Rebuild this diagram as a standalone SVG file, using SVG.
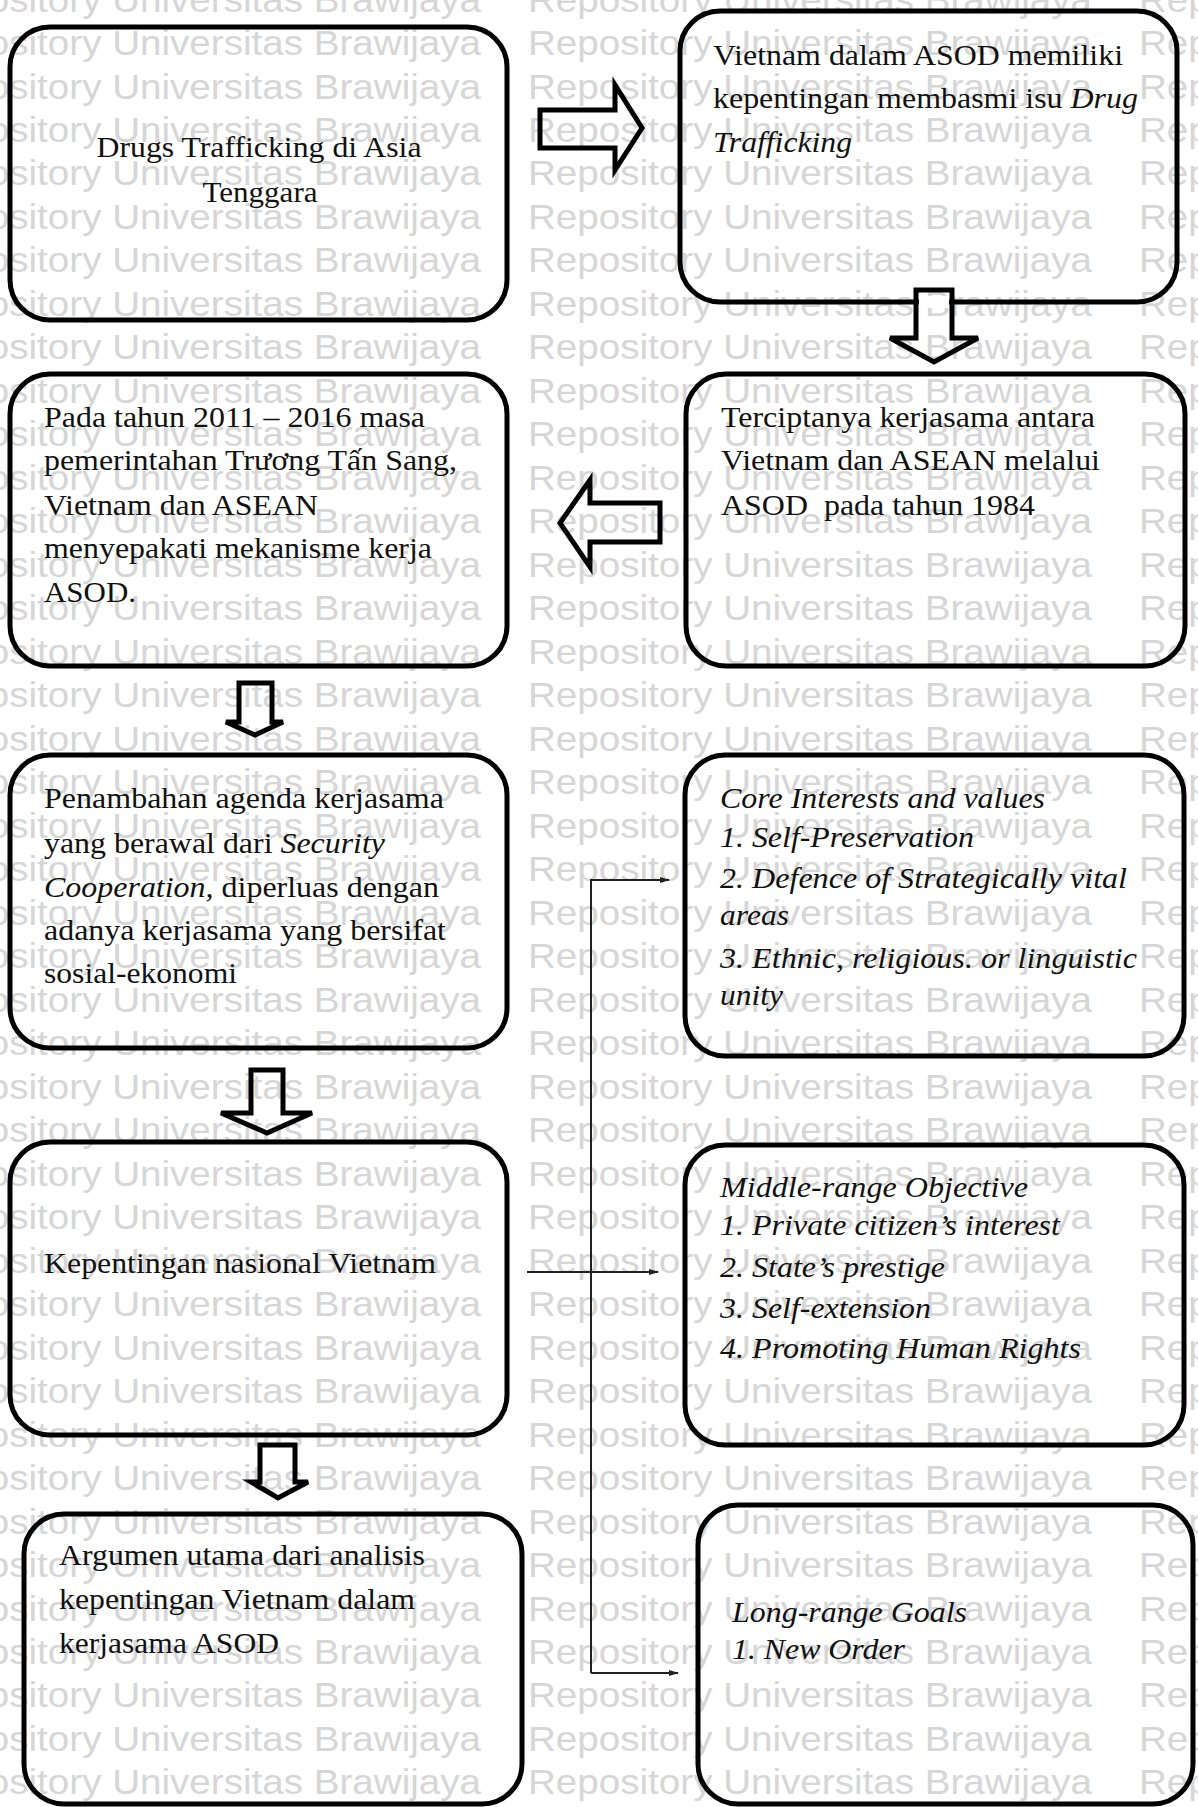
<svg xmlns="http://www.w3.org/2000/svg" width="1198" height="1807" viewBox="0 0 1198 1807">
<style>
.box{fill:none;stroke:#000;stroke-width:5}
.blk{fill:none;stroke:#000;stroke-width:5;stroke-linejoin:miter}
.t{font-family:"Liberation Serif","Times New Roman",serif;font-size:29px;fill:#111}
.i{font-style:italic}
.con{fill:none;stroke:#222;stroke-width:2}
.wm{font-family:"Liberation Sans",Arial,sans-serif;font-size:35px;fill:#d6d6d6}
</style>
<defs>
<marker id="ah" markerWidth="10" markerHeight="8" refX="9" refY="4" orient="auto" markerUnits="userSpaceOnUse">
<path d="M0,1 L10,4 L0,7 Z" fill="#222"/>
</marker>
</defs>
<rect width="1198" height="1807" fill="#fff"/>

<g id="watermark" class="wm">
<text x="-83" y="11.5" textLength="564" lengthAdjust="spacingAndGlyphs">Repository Universitas Brawijaya</text>
<text x="528" y="11.5" textLength="564" lengthAdjust="spacingAndGlyphs">Repository Universitas Brawijaya</text>
<text x="1139" y="11.5" textLength="564" lengthAdjust="spacingAndGlyphs">Repository Universitas Brawijaya</text>
<text x="-83" y="55" textLength="564" lengthAdjust="spacingAndGlyphs">Repository Universitas Brawijaya</text>
<text x="528" y="55" textLength="564" lengthAdjust="spacingAndGlyphs">Repository Universitas Brawijaya</text>
<text x="1139" y="55" textLength="564" lengthAdjust="spacingAndGlyphs">Repository Universitas Brawijaya</text>
<text x="-83" y="98.5" textLength="564" lengthAdjust="spacingAndGlyphs">Repository Universitas Brawijaya</text>
<text x="528" y="98.5" textLength="564" lengthAdjust="spacingAndGlyphs">Repository Universitas Brawijaya</text>
<text x="1139" y="98.5" textLength="564" lengthAdjust="spacingAndGlyphs">Repository Universitas Brawijaya</text>
<text x="-83" y="142" textLength="564" lengthAdjust="spacingAndGlyphs">Repository Universitas Brawijaya</text>
<text x="528" y="142" textLength="564" lengthAdjust="spacingAndGlyphs">Repository Universitas Brawijaya</text>
<text x="1139" y="142" textLength="564" lengthAdjust="spacingAndGlyphs">Repository Universitas Brawijaya</text>
<text x="-83" y="185.4" textLength="564" lengthAdjust="spacingAndGlyphs">Repository Universitas Brawijaya</text>
<text x="528" y="185.4" textLength="564" lengthAdjust="spacingAndGlyphs">Repository Universitas Brawijaya</text>
<text x="1139" y="185.4" textLength="564" lengthAdjust="spacingAndGlyphs">Repository Universitas Brawijaya</text>
<text x="-83" y="228.9" textLength="564" lengthAdjust="spacingAndGlyphs">Repository Universitas Brawijaya</text>
<text x="528" y="228.9" textLength="564" lengthAdjust="spacingAndGlyphs">Repository Universitas Brawijaya</text>
<text x="1139" y="228.9" textLength="564" lengthAdjust="spacingAndGlyphs">Repository Universitas Brawijaya</text>
<text x="-83" y="272.4" textLength="564" lengthAdjust="spacingAndGlyphs">Repository Universitas Brawijaya</text>
<text x="528" y="272.4" textLength="564" lengthAdjust="spacingAndGlyphs">Repository Universitas Brawijaya</text>
<text x="1139" y="272.4" textLength="564" lengthAdjust="spacingAndGlyphs">Repository Universitas Brawijaya</text>
<text x="-83" y="315.9" textLength="564" lengthAdjust="spacingAndGlyphs">Repository Universitas Brawijaya</text>
<text x="528" y="315.9" textLength="564" lengthAdjust="spacingAndGlyphs">Repository Universitas Brawijaya</text>
<text x="1139" y="315.9" textLength="564" lengthAdjust="spacingAndGlyphs">Repository Universitas Brawijaya</text>
<text x="-83" y="359.4" textLength="564" lengthAdjust="spacingAndGlyphs">Repository Universitas Brawijaya</text>
<text x="528" y="359.4" textLength="564" lengthAdjust="spacingAndGlyphs">Repository Universitas Brawijaya</text>
<text x="1139" y="359.4" textLength="564" lengthAdjust="spacingAndGlyphs">Repository Universitas Brawijaya</text>
<text x="-83" y="402.9" textLength="564" lengthAdjust="spacingAndGlyphs">Repository Universitas Brawijaya</text>
<text x="528" y="402.9" textLength="564" lengthAdjust="spacingAndGlyphs">Repository Universitas Brawijaya</text>
<text x="1139" y="402.9" textLength="564" lengthAdjust="spacingAndGlyphs">Repository Universitas Brawijaya</text>
<text x="-83" y="446.4" textLength="564" lengthAdjust="spacingAndGlyphs">Repository Universitas Brawijaya</text>
<text x="528" y="446.4" textLength="564" lengthAdjust="spacingAndGlyphs">Repository Universitas Brawijaya</text>
<text x="1139" y="446.4" textLength="564" lengthAdjust="spacingAndGlyphs">Repository Universitas Brawijaya</text>
<text x="-83" y="489.8" textLength="564" lengthAdjust="spacingAndGlyphs">Repository Universitas Brawijaya</text>
<text x="528" y="489.8" textLength="564" lengthAdjust="spacingAndGlyphs">Repository Universitas Brawijaya</text>
<text x="1139" y="489.8" textLength="564" lengthAdjust="spacingAndGlyphs">Repository Universitas Brawijaya</text>
<text x="-83" y="533.3" textLength="564" lengthAdjust="spacingAndGlyphs">Repository Universitas Brawijaya</text>
<text x="528" y="533.3" textLength="564" lengthAdjust="spacingAndGlyphs">Repository Universitas Brawijaya</text>
<text x="1139" y="533.3" textLength="564" lengthAdjust="spacingAndGlyphs">Repository Universitas Brawijaya</text>
<text x="-83" y="576.8" textLength="564" lengthAdjust="spacingAndGlyphs">Repository Universitas Brawijaya</text>
<text x="528" y="576.8" textLength="564" lengthAdjust="spacingAndGlyphs">Repository Universitas Brawijaya</text>
<text x="1139" y="576.8" textLength="564" lengthAdjust="spacingAndGlyphs">Repository Universitas Brawijaya</text>
<text x="-83" y="620.3" textLength="564" lengthAdjust="spacingAndGlyphs">Repository Universitas Brawijaya</text>
<text x="528" y="620.3" textLength="564" lengthAdjust="spacingAndGlyphs">Repository Universitas Brawijaya</text>
<text x="1139" y="620.3" textLength="564" lengthAdjust="spacingAndGlyphs">Repository Universitas Brawijaya</text>
<text x="-83" y="663.8" textLength="564" lengthAdjust="spacingAndGlyphs">Repository Universitas Brawijaya</text>
<text x="528" y="663.8" textLength="564" lengthAdjust="spacingAndGlyphs">Repository Universitas Brawijaya</text>
<text x="1139" y="663.8" textLength="564" lengthAdjust="spacingAndGlyphs">Repository Universitas Brawijaya</text>
<text x="-83" y="707.3" textLength="564" lengthAdjust="spacingAndGlyphs">Repository Universitas Brawijaya</text>
<text x="528" y="707.3" textLength="564" lengthAdjust="spacingAndGlyphs">Repository Universitas Brawijaya</text>
<text x="1139" y="707.3" textLength="564" lengthAdjust="spacingAndGlyphs">Repository Universitas Brawijaya</text>
<text x="-83" y="750.8" textLength="564" lengthAdjust="spacingAndGlyphs">Repository Universitas Brawijaya</text>
<text x="528" y="750.8" textLength="564" lengthAdjust="spacingAndGlyphs">Repository Universitas Brawijaya</text>
<text x="1139" y="750.8" textLength="564" lengthAdjust="spacingAndGlyphs">Repository Universitas Brawijaya</text>
<text x="-83" y="794.2" textLength="564" lengthAdjust="spacingAndGlyphs">Repository Universitas Brawijaya</text>
<text x="528" y="794.2" textLength="564" lengthAdjust="spacingAndGlyphs">Repository Universitas Brawijaya</text>
<text x="1139" y="794.2" textLength="564" lengthAdjust="spacingAndGlyphs">Repository Universitas Brawijaya</text>
<text x="-83" y="837.7" textLength="564" lengthAdjust="spacingAndGlyphs">Repository Universitas Brawijaya</text>
<text x="528" y="837.7" textLength="564" lengthAdjust="spacingAndGlyphs">Repository Universitas Brawijaya</text>
<text x="1139" y="837.7" textLength="564" lengthAdjust="spacingAndGlyphs">Repository Universitas Brawijaya</text>
<text x="-83" y="881.2" textLength="564" lengthAdjust="spacingAndGlyphs">Repository Universitas Brawijaya</text>
<text x="528" y="881.2" textLength="564" lengthAdjust="spacingAndGlyphs">Repository Universitas Brawijaya</text>
<text x="1139" y="881.2" textLength="564" lengthAdjust="spacingAndGlyphs">Repository Universitas Brawijaya</text>
<text x="-83" y="924.7" textLength="564" lengthAdjust="spacingAndGlyphs">Repository Universitas Brawijaya</text>
<text x="528" y="924.7" textLength="564" lengthAdjust="spacingAndGlyphs">Repository Universitas Brawijaya</text>
<text x="1139" y="924.7" textLength="564" lengthAdjust="spacingAndGlyphs">Repository Universitas Brawijaya</text>
<text x="-83" y="968.2" textLength="564" lengthAdjust="spacingAndGlyphs">Repository Universitas Brawijaya</text>
<text x="528" y="968.2" textLength="564" lengthAdjust="spacingAndGlyphs">Repository Universitas Brawijaya</text>
<text x="1139" y="968.2" textLength="564" lengthAdjust="spacingAndGlyphs">Repository Universitas Brawijaya</text>
<text x="-83" y="1011.7" textLength="564" lengthAdjust="spacingAndGlyphs">Repository Universitas Brawijaya</text>
<text x="528" y="1011.7" textLength="564" lengthAdjust="spacingAndGlyphs">Repository Universitas Brawijaya</text>
<text x="1139" y="1011.7" textLength="564" lengthAdjust="spacingAndGlyphs">Repository Universitas Brawijaya</text>
<text x="-83" y="1055.2" textLength="564" lengthAdjust="spacingAndGlyphs">Repository Universitas Brawijaya</text>
<text x="528" y="1055.2" textLength="564" lengthAdjust="spacingAndGlyphs">Repository Universitas Brawijaya</text>
<text x="1139" y="1055.2" textLength="564" lengthAdjust="spacingAndGlyphs">Repository Universitas Brawijaya</text>
<text x="-83" y="1098.6" textLength="564" lengthAdjust="spacingAndGlyphs">Repository Universitas Brawijaya</text>
<text x="528" y="1098.6" textLength="564" lengthAdjust="spacingAndGlyphs">Repository Universitas Brawijaya</text>
<text x="1139" y="1098.6" textLength="564" lengthAdjust="spacingAndGlyphs">Repository Universitas Brawijaya</text>
<text x="-83" y="1142.1" textLength="564" lengthAdjust="spacingAndGlyphs">Repository Universitas Brawijaya</text>
<text x="528" y="1142.1" textLength="564" lengthAdjust="spacingAndGlyphs">Repository Universitas Brawijaya</text>
<text x="1139" y="1142.1" textLength="564" lengthAdjust="spacingAndGlyphs">Repository Universitas Brawijaya</text>
<text x="-83" y="1185.6" textLength="564" lengthAdjust="spacingAndGlyphs">Repository Universitas Brawijaya</text>
<text x="528" y="1185.6" textLength="564" lengthAdjust="spacingAndGlyphs">Repository Universitas Brawijaya</text>
<text x="1139" y="1185.6" textLength="564" lengthAdjust="spacingAndGlyphs">Repository Universitas Brawijaya</text>
<text x="-83" y="1229.1" textLength="564" lengthAdjust="spacingAndGlyphs">Repository Universitas Brawijaya</text>
<text x="528" y="1229.1" textLength="564" lengthAdjust="spacingAndGlyphs">Repository Universitas Brawijaya</text>
<text x="1139" y="1229.1" textLength="564" lengthAdjust="spacingAndGlyphs">Repository Universitas Brawijaya</text>
<text x="-83" y="1272.6" textLength="564" lengthAdjust="spacingAndGlyphs">Repository Universitas Brawijaya</text>
<text x="528" y="1272.6" textLength="564" lengthAdjust="spacingAndGlyphs">Repository Universitas Brawijaya</text>
<text x="1139" y="1272.6" textLength="564" lengthAdjust="spacingAndGlyphs">Repository Universitas Brawijaya</text>
<text x="-83" y="1316.1" textLength="564" lengthAdjust="spacingAndGlyphs">Repository Universitas Brawijaya</text>
<text x="528" y="1316.1" textLength="564" lengthAdjust="spacingAndGlyphs">Repository Universitas Brawijaya</text>
<text x="1139" y="1316.1" textLength="564" lengthAdjust="spacingAndGlyphs">Repository Universitas Brawijaya</text>
<text x="-83" y="1359.6" textLength="564" lengthAdjust="spacingAndGlyphs">Repository Universitas Brawijaya</text>
<text x="528" y="1359.6" textLength="564" lengthAdjust="spacingAndGlyphs">Repository Universitas Brawijaya</text>
<text x="1139" y="1359.6" textLength="564" lengthAdjust="spacingAndGlyphs">Repository Universitas Brawijaya</text>
<text x="-83" y="1403" textLength="564" lengthAdjust="spacingAndGlyphs">Repository Universitas Brawijaya</text>
<text x="528" y="1403" textLength="564" lengthAdjust="spacingAndGlyphs">Repository Universitas Brawijaya</text>
<text x="1139" y="1403" textLength="564" lengthAdjust="spacingAndGlyphs">Repository Universitas Brawijaya</text>
<text x="-83" y="1446.5" textLength="564" lengthAdjust="spacingAndGlyphs">Repository Universitas Brawijaya</text>
<text x="528" y="1446.5" textLength="564" lengthAdjust="spacingAndGlyphs">Repository Universitas Brawijaya</text>
<text x="1139" y="1446.5" textLength="564" lengthAdjust="spacingAndGlyphs">Repository Universitas Brawijaya</text>
<text x="-83" y="1490" textLength="564" lengthAdjust="spacingAndGlyphs">Repository Universitas Brawijaya</text>
<text x="528" y="1490" textLength="564" lengthAdjust="spacingAndGlyphs">Repository Universitas Brawijaya</text>
<text x="1139" y="1490" textLength="564" lengthAdjust="spacingAndGlyphs">Repository Universitas Brawijaya</text>
<text x="-83" y="1533.5" textLength="564" lengthAdjust="spacingAndGlyphs">Repository Universitas Brawijaya</text>
<text x="528" y="1533.5" textLength="564" lengthAdjust="spacingAndGlyphs">Repository Universitas Brawijaya</text>
<text x="1139" y="1533.5" textLength="564" lengthAdjust="spacingAndGlyphs">Repository Universitas Brawijaya</text>
<text x="-83" y="1577" textLength="564" lengthAdjust="spacingAndGlyphs">Repository Universitas Brawijaya</text>
<text x="528" y="1577" textLength="564" lengthAdjust="spacingAndGlyphs">Repository Universitas Brawijaya</text>
<text x="1139" y="1577" textLength="564" lengthAdjust="spacingAndGlyphs">Repository Universitas Brawijaya</text>
<text x="-83" y="1620.5" textLength="564" lengthAdjust="spacingAndGlyphs">Repository Universitas Brawijaya</text>
<text x="528" y="1620.5" textLength="564" lengthAdjust="spacingAndGlyphs">Repository Universitas Brawijaya</text>
<text x="1139" y="1620.5" textLength="564" lengthAdjust="spacingAndGlyphs">Repository Universitas Brawijaya</text>
<text x="-83" y="1663.9" textLength="564" lengthAdjust="spacingAndGlyphs">Repository Universitas Brawijaya</text>
<text x="528" y="1663.9" textLength="564" lengthAdjust="spacingAndGlyphs">Repository Universitas Brawijaya</text>
<text x="1139" y="1663.9" textLength="564" lengthAdjust="spacingAndGlyphs">Repository Universitas Brawijaya</text>
<text x="-83" y="1707.4" textLength="564" lengthAdjust="spacingAndGlyphs">Repository Universitas Brawijaya</text>
<text x="528" y="1707.4" textLength="564" lengthAdjust="spacingAndGlyphs">Repository Universitas Brawijaya</text>
<text x="1139" y="1707.4" textLength="564" lengthAdjust="spacingAndGlyphs">Repository Universitas Brawijaya</text>
<text x="-83" y="1750.9" textLength="564" lengthAdjust="spacingAndGlyphs">Repository Universitas Brawijaya</text>
<text x="528" y="1750.9" textLength="564" lengthAdjust="spacingAndGlyphs">Repository Universitas Brawijaya</text>
<text x="1139" y="1750.9" textLength="564" lengthAdjust="spacingAndGlyphs">Repository Universitas Brawijaya</text>
<text x="-83" y="1794.4" textLength="564" lengthAdjust="spacingAndGlyphs">Repository Universitas Brawijaya</text>
<text x="528" y="1794.4" textLength="564" lengthAdjust="spacingAndGlyphs">Repository Universitas Brawijaya</text>
<text x="1139" y="1794.4" textLength="564" lengthAdjust="spacingAndGlyphs">Repository Universitas Brawijaya</text>
</g>

<g id="n1">
<rect class="box" x="10" y="27" width="497" height="293" rx="40"/>
<text class="t" x="259" y="157" text-anchor="middle" textLength="325" lengthAdjust="spacingAndGlyphs">Drugs Trafficking di Asia</text>
<text class="t" x="260" y="202" text-anchor="middle" textLength="115" lengthAdjust="spacingAndGlyphs">Tenggara</text>
</g>

<g id="n2">
<rect class="box" x="680" y="11" width="497" height="291" rx="40"/>
<text class="t" x="713" y="65" textLength="410" lengthAdjust="spacingAndGlyphs">Vietnam dalam ASOD memiliki</text>
<text class="t" x="713" y="108" textLength="425" lengthAdjust="spacingAndGlyphs">kepentingan membasmi isu <tspan class="i">Drug</tspan></text>
<text class="t i" x="713" y="152" textLength="139" lengthAdjust="spacingAndGlyphs">Trafficking</text>
</g>

<g id="n3">
<rect class="box" x="686" y="374" width="499" height="292" rx="40"/>
<text class="t" x="721" y="427" textLength="374" lengthAdjust="spacingAndGlyphs">Terciptanya kerjasama antara</text>
<text class="t" x="721" y="470" textLength="379" lengthAdjust="spacingAndGlyphs">Vietnam dan ASEAN melalui</text>
<text class="t" x="721" y="515" textLength="314" lengthAdjust="spacingAndGlyphs" xml:space="preserve">ASOD  pada tahun 1984</text>
</g>

<g id="n4">
<rect class="box" x="10" y="374" width="497" height="292" rx="40"/>
<text class="t" x="44" y="427" textLength="381" lengthAdjust="spacingAndGlyphs">Pada tahun 2011 – 2016 masa</text>
<text class="t" x="44" y="470" textLength="413" lengthAdjust="spacingAndGlyphs">pemerintahan Trương Tấn Sang,</text>
<text class="t" x="44" y="515" textLength="274" lengthAdjust="spacingAndGlyphs">Vietnam dan ASEAN</text>
<text class="t" x="44" y="558" textLength="388" lengthAdjust="spacingAndGlyphs">menyepakati mekanisme kerja</text>
<text class="t" x="44" y="602" textLength="92" lengthAdjust="spacingAndGlyphs">ASOD.</text>
</g>

<g id="n5">
<rect class="box" x="10" y="755" width="497" height="293" rx="40"/>
<text class="t" x="44" y="808" textLength="400" lengthAdjust="spacingAndGlyphs">Penambahan agenda kerjasama</text>
<text class="t" x="44" y="853" textLength="341" lengthAdjust="spacingAndGlyphs">yang berawal dari <tspan class="i">Security</tspan></text>
<text class="t" x="44" y="897" textLength="395" lengthAdjust="spacingAndGlyphs"><tspan class="i">Cooperation,</tspan> diperluas dengan</text>
<text class="t" x="44" y="940" textLength="402" lengthAdjust="spacingAndGlyphs">adanya kerjasama yang bersifat</text>
<text class="t" x="44" y="983" textLength="193" lengthAdjust="spacingAndGlyphs">sosial-ekonomi</text>
</g>

<g id="n6">
<rect class="box" x="685" y="755" width="499" height="301" rx="40"/>
<text class="t i" x="720" y="808" textLength="325" lengthAdjust="spacingAndGlyphs">Core Interests and values</text>
<text class="t i" x="720" y="847" textLength="254" lengthAdjust="spacingAndGlyphs">1. Self-Preservation</text>
<text class="t i" x="720" y="888" textLength="407" lengthAdjust="spacingAndGlyphs">2. Defence of Strategically vital</text>
<text class="t i" x="720" y="925" textLength="69" lengthAdjust="spacingAndGlyphs">areas</text>
<text class="t i" x="720" y="968" textLength="417" lengthAdjust="spacingAndGlyphs">3. Ethnic, religious. or linguistic</text>
<text class="t i" x="720" y="1005" textLength="63" lengthAdjust="spacingAndGlyphs">unity</text>
</g>

<g id="n7">
<rect class="box" x="10" y="1142" width="497" height="293" rx="40"/>
<text class="t" x="44" y="1273" textLength="392" lengthAdjust="spacingAndGlyphs">Kepentingan nasional Vietnam</text>
</g>

<g id="n8">
<rect class="box" x="685" y="1145" width="499" height="300" rx="40"/>
<text class="t i" x="720" y="1197" textLength="308" lengthAdjust="spacingAndGlyphs">Middle-range Objective</text>
<text class="t i" x="720" y="1235" textLength="340" lengthAdjust="spacingAndGlyphs">1. Private citizen’s interest</text>
<text class="t i" x="720" y="1277" textLength="225" lengthAdjust="spacingAndGlyphs">2. State’s prestige</text>
<text class="t i" x="720" y="1318" textLength="211" lengthAdjust="spacingAndGlyphs">3. Self-extension</text>
<text class="t i" x="720" y="1358" textLength="361" lengthAdjust="spacingAndGlyphs">4. Promoting Human Rights</text>
</g>

<g id="n9">
<rect class="box" x="24" y="1514" width="498" height="290" rx="40"/>
<text class="t" x="59" y="1565" textLength="366" lengthAdjust="spacingAndGlyphs">Argumen utama dari analisis</text>
<text class="t" x="59" y="1609" textLength="356" lengthAdjust="spacingAndGlyphs">kepentingan Vietnam dalam</text>
<text class="t" x="59" y="1653" textLength="220" lengthAdjust="spacingAndGlyphs">kerjasama ASOD</text>
</g>

<g id="n10">
<rect class="box" x="698" y="1505" width="495" height="299" rx="40"/>
<text class="t i" x="732" y="1622" textLength="235" lengthAdjust="spacingAndGlyphs">Long-range Goals</text>
<text class="t i" x="732" y="1659" textLength="173" lengthAdjust="spacingAndGlyphs">1. New Order</text>
</g>

<g id="connectors">
<path class="blk" d="M540,110 H615 V85 L642,128 L615,170 V148 H540 Z"/>
<rect x="919" y="296" width="30" height="12" fill="#fff"/>
<path class="blk" d="M916,290 V338 H890 L934,362 L978,338 H952 V290 Z"/>
<path class="blk" d="M660,503 H590 V480 L560,523 L590,567 V542 H660 Z"/>
<path class="blk" d="M239,683 V722 H226 L255,735 L283,722 H272 V683 Z"/>
<path class="blk" d="M251,1070 V1113 H221 L267,1133 L312,1113 H283 V1070 Z"/>
<path class="blk" d="M260,1445 V1482 H251 L278,1498 L308,1482 H295 V1445 Z"/>
<path class="con" d="M591,1673 V880 H669" marker-end="url(#ah)"/>
<path class="con" d="M591,1673 H678" marker-end="url(#ah)"/>
<path class="con" d="M527,1272 H658" marker-end="url(#ah)"/>
</g>
</svg>
